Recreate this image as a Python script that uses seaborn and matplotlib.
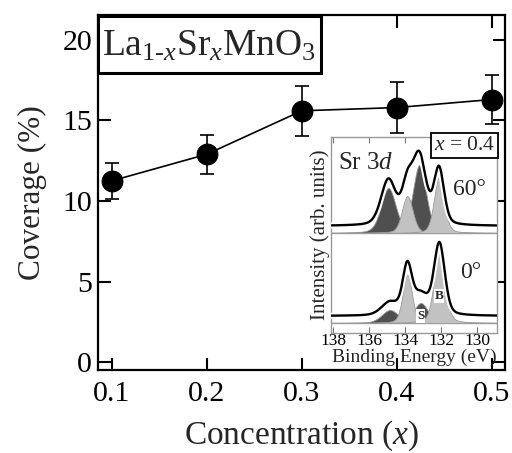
import numpy as np
import pandas as pd
import matplotlib
matplotlib.use("Agg")
import matplotlib.pyplot as plt
import matplotlib.patheffects as pe
from matplotlib.patches import Rectangle
import seaborn as sns

# ---- main data ----
concentration = [0.1, 0.2, 0.3, 0.4, 0.5]
coverage = [11.25, 12.9, 15.6, 15.8, 16.3]
coverage_err = [1.1, 1.2, 1.55, 1.6, 1.5]
x_ticks = [0.1, 0.2, 0.3, 0.4, 0.5]
y_ticks = [0, 5, 10, 15, 20]

# ---- inset: Sr 3d fitted components (dark = S, light = B) ----
be_ticks = [138, 136, 134, 132, 130]
comp_kind = ["dark", "light", "dark", "light"]
top_centers = [134.94, 133.89, 133.22, 132.13]
top_heights = [45, 37, 68, 56]
top_sigmas = [0.41, 0.30, 0.37, 0.28]
bot_centers = [134.85, 133.89, 133.14, 132.11]
bot_heights = [13, 48, 20, 72]
bot_sigmas = [0.47, 0.26, 0.40, 0.30]
lorentz_frac = 0.3
top_base, bot_base = 100, 10
data_offset = 7

sns.set_theme(style="ticks")
plt.rcParams["font.family"] = ["Liberation Serif", "DejaVu Serif"]
plt.rcParams["mathtext.fontset"] = "custom"
plt.rcParams["mathtext.rm"] = "Liberation Serif"
plt.rcParams["mathtext.it"] = "Liberation Serif:italic"
plt.rcParams["mathtext.bf"] = "Liberation Serif:bold"

fig = plt.figure(figsize=(5.12, 4.53), dpi=100)
ax = fig.add_axes([0.191, 0.183, 0.795, 0.784])

df = pd.DataFrame({"x": concentration, "y": coverage})
ax.errorbar(concentration, coverage, yerr=coverage_err, fmt="none",
            ecolor="black", elinewidth=1.2, capsize=5, capthick=1.2, zorder=2)
sns.lineplot(data=df, x="x", y="y", ax=ax, color="black", lw=1.2,
             marker="o", markersize=15, markerfacecolor="black",
             markeredgecolor="black", zorder=3)

ax.set_xlim(0.0853, 0.5137)
ax.set_ylim(-0.5, 21.55)
ax.set_xticks(x_ticks)
ax.set_xticklabels([f"{v:.1f}" for v in x_ticks])
ax.set_yticks(y_ticks)
ax.tick_params(direction="in", length=9, width=1.5, labelsize=21.5,
               top=True, right=True, colors="black")
ax.tick_params(axis="x", pad=8)
ax.tick_params(axis="y", pad=4)
for s in ax.spines.values():
    s.set_linewidth(1.6)
    s.set_color("black")
ax.set_xlabel("Concentration ($x$)", fontsize=24, labelpad=8)
ax.set_ylabel("Coverage (%)", fontsize=22.5, labelpad=11)

# title box
ax.add_patch(Rectangle((0.0, 0.837), 0.548, 0.16, transform=ax.transAxes,
                       facecolor="white", edgecolor="black", lw=2.2,
                       clip_on=False, zorder=10))
ax.text(0.274, 0.912, r"$\mathrm{La}_{1\text{-}x}\mathrm{Sr}_{x}\mathrm{MnO}_{3}$",
        transform=ax.transAxes, fontsize=27, ha="center", va="center", zorder=11)

# ---- inset ----
ins = fig.add_axes([0.6465, 0.265, 0.3245, 0.4325])
ins.set_facecolor("white")
be = np.linspace(138.2, 128.8, 600)

dark_col, light_col = "#4f4f4f", "#c2c2c2"

def peak(c, h, s):
    g = np.exp(-0.5 * ((be - c) / s) ** 2)
    lor = 1.0 / (1.0 + ((be - c) / (1.1774 * s)) ** 2)
    return h * ((1 - lorentz_frac) * g + lorentz_frac * lor)

def draw_spectrum(centers, heights, sigmas, base):
    comps = [peak(c, h, s) for c, h, s in zip(centers, heights, sigmas)]
    total = np.sum(comps, axis=0)
    for i in [0, 2, 1, 3]:
        col = dark_col if comp_kind[i] == "dark" else light_col
        ins.fill_between(be, base, base + comps[i], color=col, lw=0.6,
                         edgecolor="#9a9a9a", zorder=2 + (i % 2))
    ins.axhline(base, color="#9a9a9a", lw=1.0, zorder=1)
    sdf = pd.DataFrame({"be": be, "I": base + data_offset + total})
    sns.lineplot(data=sdf, x="be", y="I", ax=ins, color="black", lw=1.7,
                 zorder=5,
                 path_effects=[pe.Stroke(linewidth=4.5, foreground="white"),
                               pe.Normal()])

draw_spectrum(top_centers, top_heights, top_sigmas, top_base)
draw_spectrum(bot_centers, bot_heights, bot_sigmas, bot_base)

ins.set_xlim(138.13, 128.9)
ins.set_ylim(0, 196)
ins.set_xticks(be_ticks)
ins.set_yticks([])
ins.tick_params(axis="x", direction="in", length=4, width=0.8, top=True,
                labelsize=12.5, pad=0, color="#777777", labelcolor="black")
for s in ins.spines.values():
    s.set_linewidth(1.0)
    s.set_color("#999999")
ins.set_xlabel("Binding Energy (eV)", fontsize=14, labelpad=0)
ins.set_ylabel("Intensity (arb. units)", fontsize=15, labelpad=1)

ins.text(0.04, 0.925, r"Sr 3$d$", transform=ins.transAxes, fontsize=18,
         ha="left", va="top", zorder=6)
ins.text(0.735, 0.73, "60°", transform=ins.transAxes, fontsize=17,
         ha="left", va="center", zorder=6)
ins.text(0.775, 0.31, "0°", transform=ins.transAxes, fontsize=17,
         ha="left", va="center", zorder=6)
ins.text(0.804, 0.957, r"$x$ = 0.4", transform=ins.transAxes, fontsize=15.5,
         ha="center", va="center", zorder=8,
         bbox=dict(boxstyle="square,pad=0.12", facecolor="white",
                   edgecolor="black", lw=1.3))
ins.text(bot_centers[2], 17, "S", fontsize=9.5, fontweight="bold",
         ha="center", va="center", zorder=7,
         bbox=dict(boxstyle="square,pad=0.05", facecolor="white", edgecolor="none"))
ins.text(bot_centers[3], 37, "B", fontsize=9.5, fontweight="bold",
         ha="center", va="center", zorder=7,
         bbox=dict(boxstyle="square,pad=0.05", facecolor="white", edgecolor="none"))

fig.savefig("out.png", dpi=100)
